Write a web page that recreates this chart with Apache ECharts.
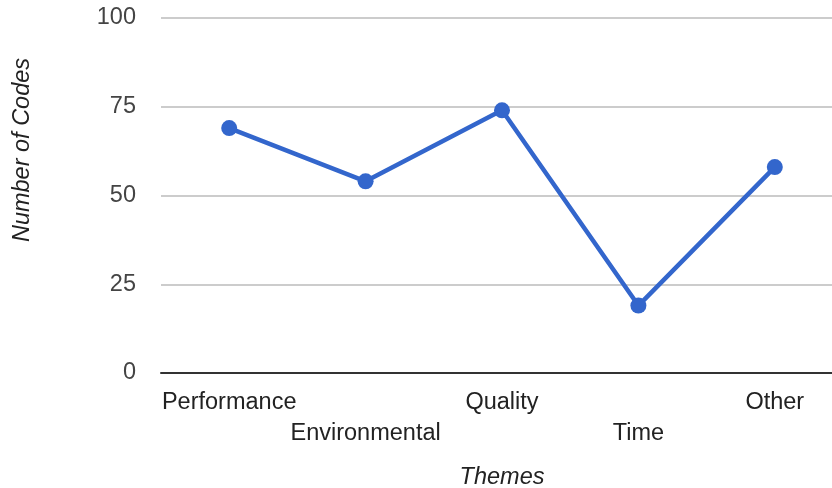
<!DOCTYPE html>
<html>
<head>
<meta charset="utf-8">
<script src="https://cdn.jsdelivr.net/npm/echarts@6/dist/echarts.min.js"></script>
<style>
  html, body { margin: 0; padding: 0; background: #fff; }
  #chart { width: 832px; height: 488px; }
</style>
</head>
<body>
<div id="chart"></div>
<script>
// Number of codes per theme
const themes = ['Performance', 'Environmental', 'Quality', 'Time', 'Other'];
const codeCounts = [69, 54, 74, 19, 58];
const yTicks = [0, 25, 50, 75, 100];

const font = 'Arial, "Liberation Sans", sans-serif';
const chart = echarts.init(document.getElementById('chart'));

chart.setOption({
  animation: false,
  // plot area runs past the right edge of the canvas
  grid: {
    left: 161, width: 682, top: 18, height: 355,
    containLabel: false, outerBoundsMode: 'none'
  },
  xAxis: {
    type: 'category',
    data: themes,
    boundaryGap: true,
    name: 'Themes',
    nameLocation: 'middle',
    nameGap: 93,
    nameTextStyle: { fontFamily: font, fontSize: 23.5, fontStyle: 'italic', color: '#222' },
    axisLine: { lineStyle: { color: '#333', width: 2 } },
    axisTick: { show: false },
    axisLabel: {
      interval: 0,
      margin: 14,
      fontFamily: font,
      fontSize: 23.5,
      color: '#222',
      lineHeight: 31,
      // alternate labels drop to a second row
      formatter: (v, i) => (i % 2 === 1 ? '\n' + v : v)
    }
  },
  yAxis: {
    type: 'value',
    min: yTicks[0],
    max: yTicks[yTicks.length - 1],
    interval: 25,
    axisLine: { show: false },
    axisTick: { show: false },
    axisLabel: { margin: 25, fontFamily: font, fontSize: 23.5, color: '#444' },
    splitLine: { lineStyle: { color: '#ccc', width: 2 } }
  },
  graphic: [{
    type: 'text',
    x: 22,
    y: 150,
    rotation: Math.PI / 2,
    style: {
      text: 'Number of Codes',
      font: 'italic 23.5px ' + font,
      fill: '#222',
      align: 'center',
      verticalAlign: 'middle'
    }
  }],
  series: [{
    type: 'line',
    data: codeCounts,
    symbol: 'circle',
    symbolSize: 16,
    lineStyle: { color: '#3366cc', width: 4.5 },
    itemStyle: { color: '#3366cc' }
  }]
});
</script>
</body>
</html>
